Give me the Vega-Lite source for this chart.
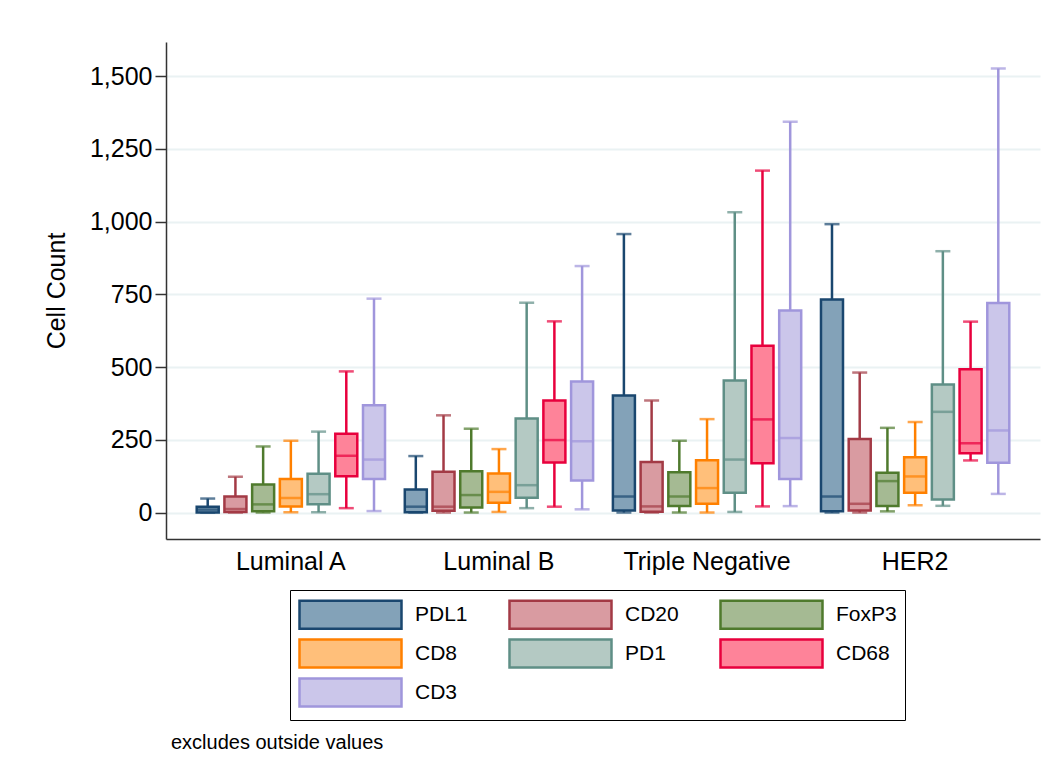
{
  "$schema": "https://vega.github.io/schema/vega-lite/v6.json",
  "width": 874,
  "height": 497,
  "autosize": {"type": "none"},
  "padding": {"left": 166, "top": 42, "right": 13, "bottom": 234},
  "background": "white",
  "config": {"view": {"stroke": null}, "font": "Liberation Sans"},
  "title": {"text": "excludes outside values", "orient": "bottom", "anchor": "start", "frame": "group", "fontSize": 20, "fontWeight": "normal", "font": "Liberation Sans", "color": "black", "offset": 12, "dx": 5},
  "data": {"values": [
    {"group": "Luminal A", "marker": "PDL1", "lo": 0, "q1": 0, "med": 10, "q3": 20, "hi": 48},
    {"group": "Luminal A", "marker": "CD20", "lo": 0, "q1": 2, "med": 12, "q3": 55, "hi": 123},
    {"group": "Luminal A", "marker": "FoxP3", "lo": 0, "q1": 4, "med": 28, "q3": 96, "hi": 227},
    {"group": "Luminal A", "marker": "CD8", "lo": 1, "q1": 21, "med": 50, "q3": 115, "hi": 247},
    {"group": "Luminal A", "marker": "PD1", "lo": 1, "q1": 28, "med": 63, "q3": 133, "hi": 278},
    {"group": "Luminal A", "marker": "CD68", "lo": 15, "q1": 125, "med": 195, "q3": 271, "hi": 485},
    {"group": "Luminal A", "marker": "CD3", "lo": 5, "q1": 115, "med": 182, "q3": 369, "hi": 735},
    {"group": "Luminal B", "marker": "PDL1", "lo": 0, "q1": 1, "med": 20, "q3": 79, "hi": 194},
    {"group": "Luminal B", "marker": "CD20", "lo": 0, "q1": 6, "med": 20, "q3": 140, "hi": 334},
    {"group": "Luminal B", "marker": "FoxP3", "lo": 0, "q1": 17, "med": 60, "q3": 142, "hi": 288},
    {"group": "Luminal B", "marker": "CD8", "lo": 2, "q1": 34, "med": 71, "q3": 134, "hi": 218},
    {"group": "Luminal B", "marker": "PD1", "lo": 15, "q1": 51, "med": 94, "q3": 323, "hi": 721},
    {"group": "Luminal B", "marker": "CD68", "lo": 20, "q1": 172, "med": 249, "q3": 385, "hi": 657},
    {"group": "Luminal B", "marker": "CD3", "lo": 11, "q1": 110, "med": 245, "q3": 450, "hi": 847},
    {"group": "Triple Negative", "marker": "PDL1", "lo": 0, "q1": 7, "med": 55, "q3": 402, "hi": 957},
    {"group": "Triple Negative", "marker": "CD20", "lo": 0, "q1": 3, "med": 21, "q3": 174, "hi": 385},
    {"group": "Triple Negative", "marker": "FoxP3", "lo": 0, "q1": 22, "med": 55, "q3": 138, "hi": 247},
    {"group": "Triple Negative", "marker": "CD8", "lo": 0, "q1": 30, "med": 84, "q3": 180, "hi": 321},
    {"group": "Triple Negative", "marker": "PD1", "lo": 2, "q1": 68, "med": 182, "q3": 454, "hi": 1032},
    {"group": "Triple Negative", "marker": "CD68", "lo": 21, "q1": 169, "med": 320, "q3": 573, "hi": 1175},
    {"group": "Triple Negative", "marker": "CD3", "lo": 22, "q1": 115, "med": 256, "q3": 694, "hi": 1343},
    {"group": "HER2", "marker": "PDL1", "lo": 0, "q1": 4, "med": 55, "q3": 732, "hi": 991},
    {"group": "HER2", "marker": "CD20", "lo": 0, "q1": 7, "med": 30, "q3": 253, "hi": 481},
    {"group": "HER2", "marker": "FoxP3", "lo": 4, "q1": 22, "med": 108, "q3": 137, "hi": 291},
    {"group": "HER2", "marker": "CD8", "lo": 25, "q1": 68, "med": 124, "q3": 190, "hi": 311},
    {"group": "HER2", "marker": "PD1", "lo": 23, "q1": 45, "med": 346, "q3": 440, "hi": 898},
    {"group": "HER2", "marker": "CD68", "lo": 179, "q1": 204, "med": 238, "q3": 492, "hi": 656},
    {"group": "HER2", "marker": "CD3", "lo": 64, "q1": 171, "med": 282, "q3": 720, "hi": 1526}
  ]},
  "encoding": {
    "x": {"field": "group", "type": "nominal", "sort": ["Luminal A", "Luminal B", "Triple Negative", "HER2"],
      "scale": {"paddingInner": 0, "paddingOuter": 0.1},
      "axis": {"title": null, "labelFontSize": 25, "labelFont": "Liberation Sans", "labelColor": "black", "ticks": false, "labelPadding": 10, "domainColor": "#333333", "domainWidth": 1.5, "labelAngle": 0}},
    "xOffset": {"field": "marker", "type": "nominal", "sort": ["PDL1", "CD20", "FoxP3", "CD8", "PD1", "CD68", "CD3"],
      "scale": {"paddingInner": 0.206, "paddingOuter": 0.357}}
  },
  "layer": [
    {
      "mark": {"type": "rule", "strokeWidth": 2.5},
      "encoding": {
        "y": {"field": "lo", "type": "quantitative", "scale": {"domain": [-91, 1617], "nice": false, "zero": false},
          "axis": {"title": "Cell Count", "titleFontSize": 25, "titleFontWeight": "normal", "titleColor": "black", "titleFont": "Liberation Sans", "titlePadding": 20,
            "values": [0, 250, 500, 750, 1000, 1250, 1500], "format": ",.0f", "labelFontSize": 25, "labelFont": "Liberation Sans", "labelColor": "black",
            "tickSize": 11, "tickColor": "#333333", "tickWidth": 1.5, "labelPadding": 3, "domainColor": "#333333", "domainWidth": 1.5,
            "grid": true, "gridColor": "#eaf2f3", "gridWidth": 2}},
        "y2": {"field": "hi"},
        "color": {"field": "marker", "type": "nominal", "legend": null,
          "scale": {"domain": ["CD20", "CD3", "CD68", "CD8", "FoxP3", "PD1", "PDL1"], "range": ["#a33a45", "#a096dc", "#e8003d", "#ff8000", "#4f7a2d", "#5f8f86", "#1a476f"]}}
      }
    },
    {
      "mark": {"type": "tick", "thickness": 2.5, "size": 15},
      "encoding": {
        "y": {"field": "hi", "type": "quantitative"},
        "color": {"field": "marker", "type": "nominal", "legend": null}
      }
    },
    {
      "mark": {"type": "tick", "thickness": 2.5, "size": 15},
      "encoding": {
        "y": {"field": "lo", "type": "quantitative"},
        "color": {"field": "marker", "type": "nominal", "legend": null}
      }
    },
    {
      "mark": {"type": "bar", "strokeWidth": 2.5},
      "encoding": {
        "y": {"field": "q1", "type": "quantitative"},
        "y2": {"field": "q3"},
        "fill": {"field": "marker", "type": "nominal",
          "scale": {"domain": ["PDL1", "CD20", "FoxP3", "CD8", "PD1", "CD68", "CD3"], "range": ["#83a2b8", "#d99ba1", "#a5ba93", "#ffbf7a", "#b4c9c3", "#fe8399", "#cbc6ea"]},
          "legend": {"orient": "none", "legendX": 124, "legendY": 548, "direction": "horizontal", "columns": 3, "title": null, "symbolType": "M-1,-0.93H5.8V0.93H-1Z", "symbolSize": 900, "symbolStrokeWidth": 2.5,
            "labelFontSize": 21, "labelFont": "Liberation Sans", "labelColor": "black", "labelOffset": 84, "columnPadding": 36, "rowPadding": 0, "padding": 8, "strokeColor": "black", "fillColor": "white"}},
        "stroke": {"field": "marker", "type": "nominal",
          "scale": {"domain": ["PDL1", "CD20", "FoxP3", "CD8", "PD1", "CD68", "CD3"], "range": ["#1a476f", "#a33a45", "#4f7a2d", "#ff8000", "#5f8f86", "#e8003d", "#a096dc"]},
          "legend": {"orient": "none", "legendX": 124, "legendY": 548, "direction": "horizontal", "columns": 3, "title": null, "symbolType": "M-1,-0.93H5.8V0.93H-1Z", "symbolSize": 900, "symbolStrokeWidth": 2.5,
            "labelFontSize": 21, "labelFont": "Liberation Sans", "labelColor": "black", "labelOffset": 84, "columnPadding": 36, "rowPadding": 0, "padding": 8, "strokeColor": "black", "fillColor": "white"}}
      }
    },
    {
      "mark": {"type": "tick", "thickness": 2.5, "size": 22},
      "encoding": {
        "y": {"field": "med", "type": "quantitative"},
        "color": {"field": "marker", "type": "nominal", "legend": null}
      }
    }
  ]
}
